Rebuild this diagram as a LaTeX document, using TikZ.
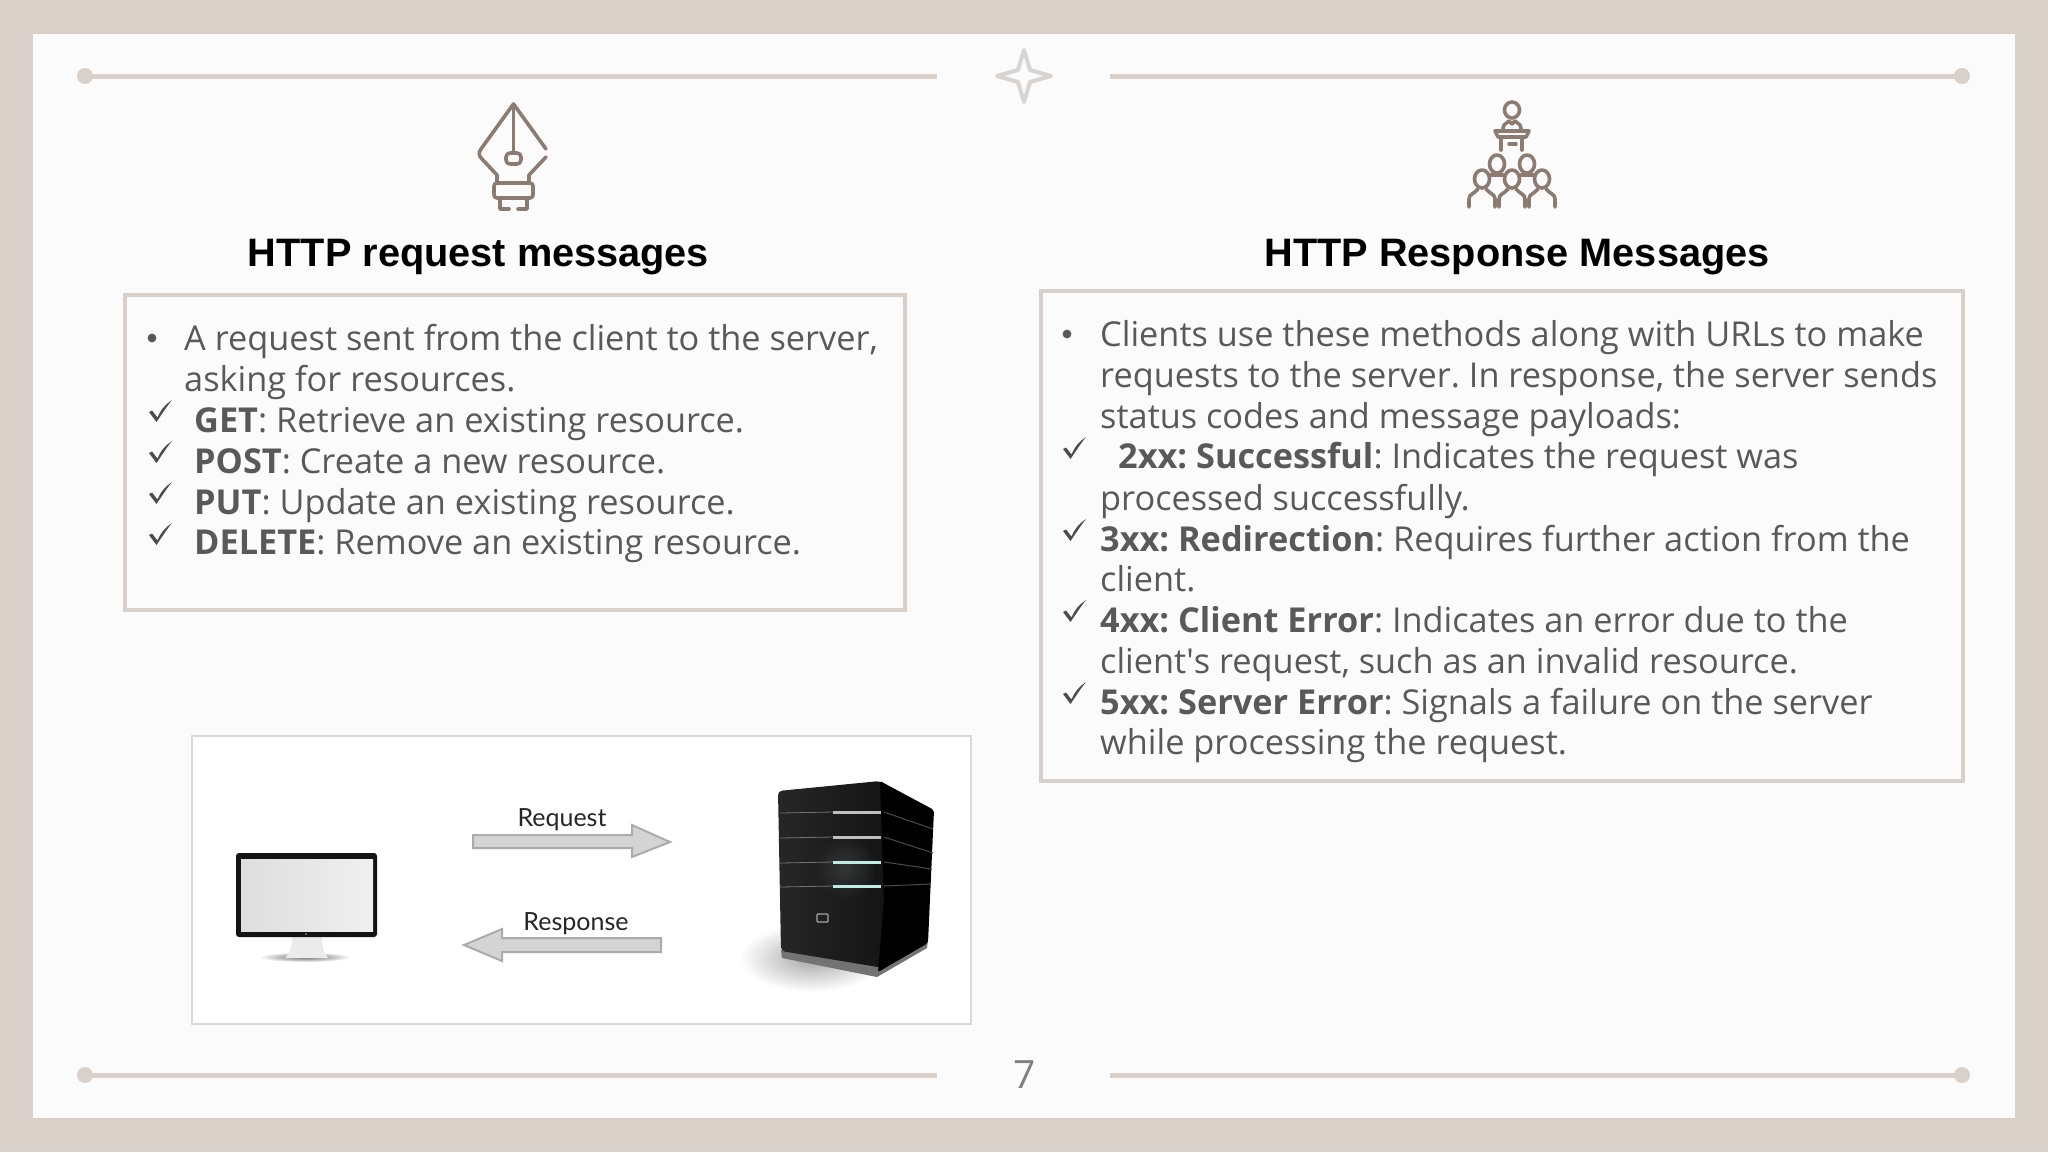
\documentclass[tikz,border=0pt]{standalone}
\usepackage{fontspec}
\setmainfont{Open Sans}
\newfontfamily\plainfont{Open Sans}
\newfontfamily\headfont{Liberation Sans}
\newfontfamily\labelfont{Lato}
\frenchspacing
\definecolor{framecol}{HTML}{D9D0CA}
\definecolor{pagecol}{HTML}{FBFBFB}
\definecolor{starcol}{HTML}{D8D4D2}
\definecolor{iconcol}{HTML}{8C7B71}
\definecolor{textcol}{HTML}{595959}
\definecolor{arrowfill}{HTML}{D4D4D4}
\definecolor{arrowline}{HTML}{ABABAB}
\definecolor{glowcol}{HTML}{BFEDE4}
\tikzset{
  msgtext/.style={anchor=base west, inner sep=0pt, text=textcol, font=\fontsize{34.3}{40}\selectfont},
  headtext/.style={anchor=center, inner sep=0pt, text=black, font=\headfont\bfseries\fontsize{39.7}{46}\selectfont},
  imgtext/.style={anchor=center, inner sep=0pt, text=black!85, font=\labelfont\fontsize{25}{30}\selectfont},
  iconline/.style={draw=iconcol, line width=3.6pt, line cap=round, line join=round},
  ruleline/.style={draw=framecol, line width=5pt},
  msgbox/.style={draw=framecol, line width=4.5pt},
  imgarrow/.style={fill=arrowfill, draw=arrowline, line width=2pt, line join=miter}
}
\newcommand\ruledot[1]{
  \draw[ruleline] (85, #1) -- (937, #1) ;
  \draw[ruleline] (1110, #1) -- (1962, #1) ;
  \fill[framecol] (85, #1) circle (8) ;
  \fill[framecol] (1962, #1) circle (8) ;
}
\newcommand\msgline[4]{
  \node[msgtext] (#1) at (#2, #3) {#4} ;
}
\newcommand\msgcheck[2]{
  \fill[black!70] (#1, #2) -- ++ (3, -1.5) -- ++ (5.5, 7) .. controls (#1 + 12, #2 - 3) and (#1 + 17, #2 - 8) .. (#1 + 23, #2 - 12)
    .. controls (#1 + 18, #2 - 6) and (#1 + 13, #2 + 2) .. (#1 + 7.5, #2 + 10) -- cycle ;
}
\newcommand\msgbullet[2]{
  \fill[textcol] (#1, #2) circle (4.4) ;
}
\newcommand\iconhead[2]{
  \draw[iconline] (#1, #2) ellipse (7.5 and 9) ;
}
\newcommand\iconperson[2]{
  \iconhead{#1}{#2}
  \draw[iconline] (#1 - 13, #2 + 28) -- (#1 - 13, #2 + 20) .. controls (#1 - 13, #2 + 15) and (#1 - 8, #2 + 15) .. (#1 - 4, #2 + 10) ;
  \draw[iconline] (#1 + 13, #2 + 28) -- (#1 + 13, #2 + 20) .. controls (#1 + 13, #2 + 15) and (#1 + 8, #2 + 15) .. (#1 + 4, #2 + 10) ;
}
\newcommand\serverstripe[3]{
  \draw[black!55, line width=.8pt] (780, #1 + 1) -- (833, #1) ;
  \draw[#2, line width=3pt] (833, #1) -- (881, #1) ;
  \draw[black!70, line width=1pt] (884, #1) -- (#3) ;
}
\begin{document}
\begin{tikzpicture}[x=1pt, y=-1pt]
  \useasboundingbox (0, 0) rectangle (2048, 1152) ;
  \fill[framecol] (0, 0) rectangle (2048, 1152) ;
  \fill[pagecol] (33, 34) rectangle (2015, 1118) ;
  \ruledot{76}
  \ruledot{1075}
  \draw[draw=starcol, line width=4pt, line join=round] (1024, 50) -- (1030, 70) -- (1051, 76) -- (1030, 82) -- (1024, 102) -- (1018, 82) -- (997, 76) -- (1018, 70) -- cycle ;
  \node[inner sep=0pt, text=black!50, font=\fontsize{39}{46}\selectfont] (pagenum) at (1024.5, 1075) {7} ;
  \draw[iconline] (546, 149) -- (513.5, 104) -- (481, 149) .. controls (478, 153) and (479, 156) .. (482, 159) -- (497, 175) -- (497, 183) ;
  \draw[iconline] (546, 157) -- (529, 175) -- (529, 183) ;
  \draw[iconline] (513.5, 104) -- (513.5, 152) ;
  \draw[iconline, rounded corners=4pt] (506, 153) rectangle (521, 164) ;
  \draw[iconline, rounded corners=3pt] (494, 183) rectangle (533, 198) ;
  \draw[iconline] (500, 198) -- (500, 209) -- (509, 209) ;
  \draw[iconline] (527, 198) -- (527, 209) -- (518, 209) ;
  \draw[iconline] (1512, 110) ellipse (7.5 and 8) ;
  \draw[iconline] (1503, 129) .. controls (1503, 124) and (1506, 124) .. (1509, 121) -- (1512, 124) -- (1515, 121) .. controls (1518, 124) and (1521, 124) .. (1521, 129) ;
  \draw[iconline] (1495, 131) -- (1529, 131) -- (1526, 137) -- (1498, 137) -- cycle ;
  \draw[iconline] (1501, 138) -- (1501, 150) ;
  \draw[iconline] (1522, 138) -- (1522, 150) ;
  \draw[iconline] (1509, 144) -- (1516, 144) ;
  \iconhead{1497}{164}
  \iconhead{1527}{164}
  \iconperson{1482}{179}
  \iconperson{1512}{179}
  \iconperson{1542}{179}
  \draw[iconline] (1491, 175) -- (1503, 175) ;
  \draw[iconline] (1521, 175) -- (1533, 175) ;
  \node[headtext] (reqhead) at (478.5, 257) {HTTP request messages} ;
  \node[headtext] (resphead) at (1517, 257) {HTTP Response Messages} ;
  \draw[msgbox] (125, 295) rectangle (905, 610) ;
  \msgbullet{152}{338}
  \msgline{reqa}{184}{350}{A request sent from the client to the server,}
  \msgline{reqb}{184}{391}{asking for resources.}
  \msgline{reqc}{194}{432}{\textbf{GET}: Retrieve an existing resource.}
  \msgline{reqd}{194}{473}{\textbf{POST}: Create a new resource.}
  \msgline{reqe}{194}{514}{\textbf{PUT}: Update an existing resource.}
  \msgline{reqf}{194}{554}{\textbf{DELETE}: Remove an existing resource.}
  \msgcheck{149}{412}
  \msgcheck{149}{453}
  \msgcheck{149}{494}
  \msgcheck{149}{535}
  \draw[msgbox] (1041, 291) rectangle (1963, 781) ;
  \msgbullet{1067}{334}
  \msgline{respa}{1100}{346}{Clients use these methods along with URLs to make}
  \msgline{respb}{1100}{387}{requests to the server. In response, the server sends}
  \msgline{respc}{1100}{428}{status codes and message payloads:}
  \msgline{respd}{1118}{468}{\textbf{2xx: Successful}: Indicates the request was}
  \msgline{respe}{1100}{510}{processed successfully.}
  \msgline{respf}{1100}{551}{\textbf{3xx: Redirection}: Requires further action from the}
  \msgline{respg}{1100}{591}{client.}
  \msgline{resph}{1100}{632}{\textbf{4xx: Client Error}: Indicates an error due to the}
  \msgline{respi}{1100}{673}{client{\plainfont '}s request, such as an invalid resource.}
  \msgline{respj}{1100}{714}{\textbf{5xx: Server Error}: Signals a failure on the server}
  \msgline{respk}{1100}{754}{while processing the request.}
  \msgcheck{1063}{449}
  \msgcheck{1063}{531}
  \msgcheck{1063}{612}
  \msgcheck{1063}{694}
  \draw[draw=black!15, fill=white, line width=1.2pt] (192, 736) rectangle (971, 1024) ;
  \shade[inner color=black!60, outer color=white] (305, 957) ellipse (46 and 5) ;
  \fill[black!8] (292, 937) -- (322, 937) .. controls (322, 948) and (324, 953) .. (328, 958) -- (285, 958) .. controls (290, 953) and (292, 948) .. (292, 937) -- cycle ;
  \fill[black!92, rounded corners=3pt] (236, 853) rectangle (377, 937) ;
  \shade[left color=black!13, right color=black!6] (241, 859) rectangle (373, 931) ;
  \fill[black!45] (306, 934) circle (1) ;
  \draw[imgarrow] (473, 835) -- (632, 835) -- (632, 825) -- (670, 842) -- (632, 857) -- (632, 848) -- (473, 848) -- cycle ;
  \draw[imgarrow] (464, 945) -- (502, 929) -- (502, 938) -- (661, 938) -- (661, 952) -- (502, 952) -- (502, 961) -- cycle ;
  \node[imgtext] (reqlabel) at (562, 820) {Request} ;
  \node[imgtext] (resplabel) at (576, 924) {Response} ;
  \shade[inner color=black!35, outer color=white] (812, 958) ellipse (72 and 34) ;
  \fill[black!55] (781, 950) -- (877, 965) -- (928, 940) -- (927, 948) -- (877, 977) -- (782, 958) -- cycle ;
  \shade[left color=black!85, right color=black!92, rounded corners=4pt] (778, 791) -- (880, 781) -- (886, 785) -- (884, 968) -- (781, 951) -- cycle ;
  \fill[black, rounded corners=2pt] (880, 781) -- (934, 810) -- (928, 943) -- (878, 972) -- (884, 900) -- cycle ;
  \shade[inner color=glowcol!25!black!75, outer color=black!88, opacity=.35] (845, 868) ellipse (30 and 30) ;
  \serverstripe{812}{black!25}{933, 829}
  \serverstripe{837}{black!25}{933, 853}
  \serverstripe{862}{glowcol}{932, 869}
  \serverstripe{886}{glowcol}{931, 884}
  \draw[black!35, line width=1.4pt, rounded corners=1pt] (817, 914) rectangle (828, 922) ;
\end{tikzpicture}
\end{document}
